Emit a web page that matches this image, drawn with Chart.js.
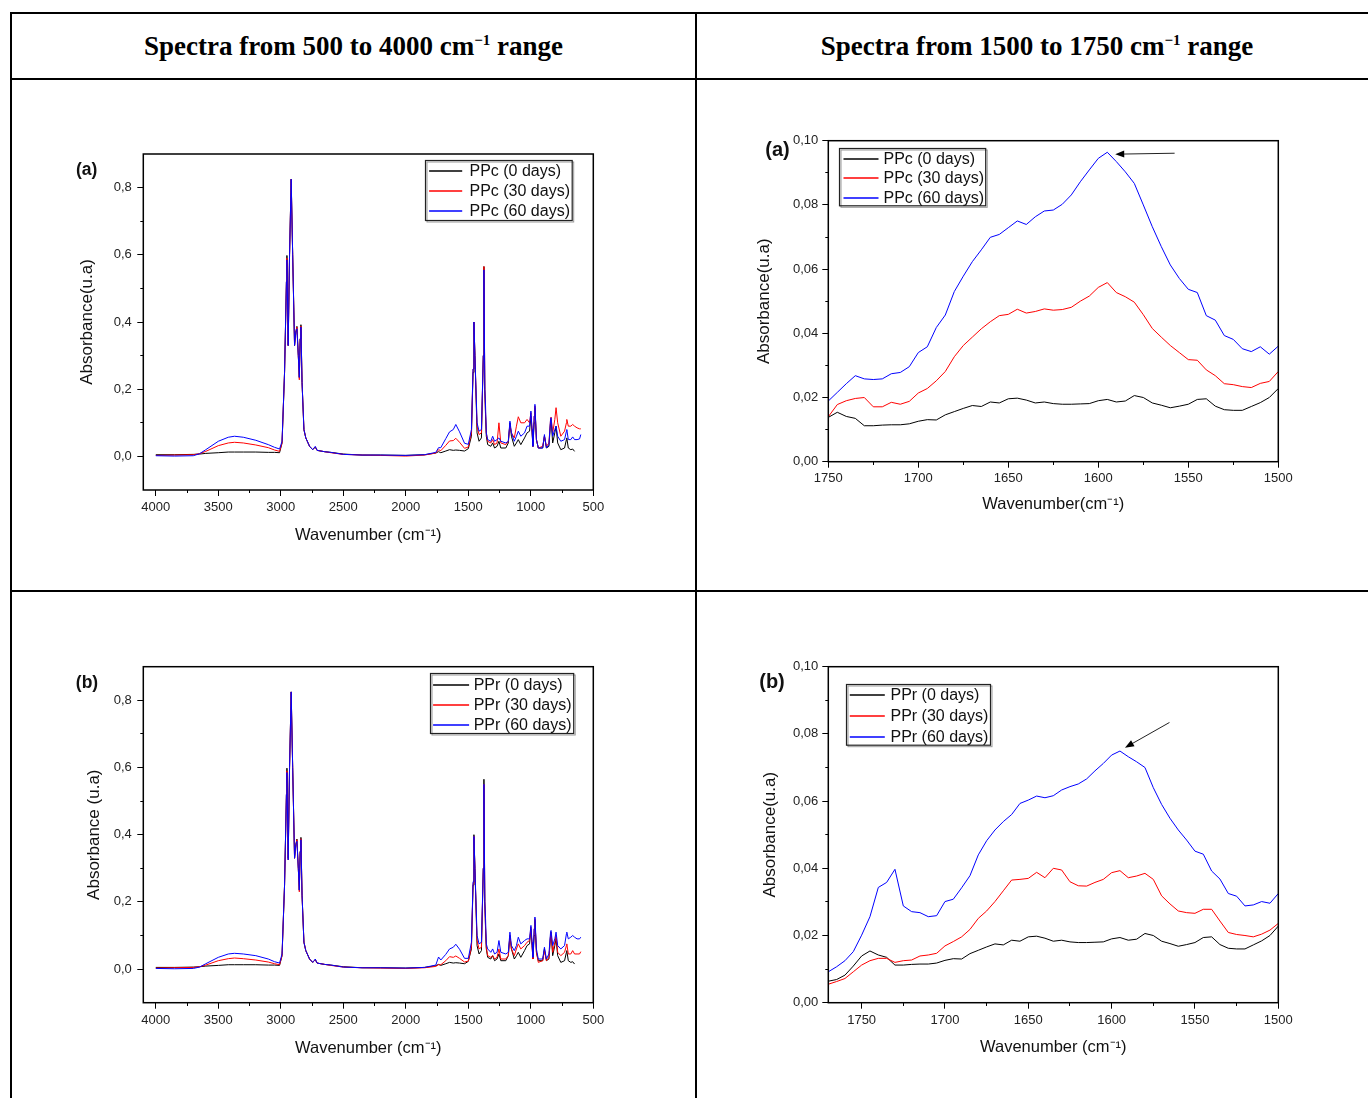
<!DOCTYPE html>
<html>
<head>
<meta charset="utf-8">
<script src="https://cdn.jsdelivr.net/npm/chart.js@4.4.1/dist/chart.umd.min.js"></script>
<style>
  html, body { margin: 0; padding: 0; background: #fff; }
  body { width: 1368px; height: 1098px; position: relative; overflow: hidden; }
  .rule { position: absolute; background: #000; }
  .hdr {
    position: absolute; top: 17px; height: 64px; line-height: 64px; text-align: center;
    font-family: "Liberation Serif", "DejaVu Serif", serif;
    font-weight: bold; font-size: 27px; color: #000; white-space: nowrap;
  }
  .hdr sup { font-size: 15px; vertical-align: 10px; line-height: 0; }
  canvas { position: absolute; }
</style>
</head>
<body>
<div class="rule" style="left:10px; top:12px; width:1358px; height:2px;"></div>
<div class="rule" style="left:10px; top:78px; width:1358px; height:2px;"></div>
<div class="rule" style="left:10px; top:590px; width:1358px; height:2px;"></div>
<div class="rule" style="left:10px; top:12px; width:2px; height:1086px;"></div>
<div class="rule" style="left:695px; top:12px; width:2px; height:1086px;"></div>
<div class="hdr" style="top:14px; left:12px; width:683px;"><span>Spectra from 500 to 4000 cm<sup>−1</sup> range</span></div>
<div class="hdr" style="top:14px; left:697px; width:680px;"><span>Spectra from 1500 to 1750 cm<sup>−1</sup> range</span></div>

<canvas id="fullA" width="678" height="506" style="left:14px; top:82px;"></canvas>
<canvas id="zoomA" width="669" height="506" style="left:699px; top:82px;"></canvas>
<canvas id="fullB" width="678" height="504" style="left:14px; top:594px;"></canvas>
<canvas id="zoomB" width="669" height="504" style="left:699px; top:594px;"></canvas>

<script>
// ---- data ----
const fullWn = [
  4000, 3850, 3700, 3650, 3600, 3500, 3420, 3370, 3300, 3200,
  3100, 3050, 3010, 2990, 2970, 2955, 2951, 2941, 2930, 2917,
  2905, 2890, 2880, 2871, 2860, 2852, 2845, 2839, 2830, 2815,
  2800, 2770, 2745, 2724, 2710, 2650, 2600, 2500, 2350, 2200,
  2000, 1850, 1760, 1738, 1720, 1680, 1650, 1620, 1600, 1570,
  1530, 1500, 1475, 1462, 1455, 1447, 1430, 1414, 1395, 1380,
  1375, 1368, 1362, 1356, 1345, 1320, 1305, 1290, 1270, 1255,
  1240, 1200, 1180, 1167, 1155, 1132, 1115, 1100, 1080, 1050,
  1030, 1010, 999, 990, 983, 973, 967, 955, 940, 905,
  891, 875, 855, 842, 838, 825, 808, 798, 785, 760,
  730, 715, 712, 700, 680, 665, 650, 630, 610, 600
];

// 0 days (same reference sample in both rows)
const day0Full = [
  0.005, 0.005, 0.006, 0.007, 0.009, 0.011, 0.013, 0.013, 0.013, 0.013,
  0.012, 0.012, 0.011, 0.040, 0.250, 0.520, 0.598, 0.330, 0.600, 0.825,
  0.600, 0.330, 0.370, 0.387, 0.300, 0.235, 0.350, 0.392, 0.220, 0.080,
  0.055, 0.030, 0.020, 0.028, 0.018, 0.014, 0.012, 0.007, 0.004, 0.004,
  0.003, 0.005, 0.010, 0.014, 0.011, 0.016, 0.020, 0.018, 0.019, 0.018,
  0.016, 0.023, 0.060, 0.250, 0.400, 0.300, 0.070, 0.045, 0.055, 0.300,
  0.565, 0.200, 0.120, 0.060, 0.035, 0.030, 0.040, 0.025, 0.030, 0.045,
  0.025, 0.025, 0.040, 0.100, 0.060, 0.030, 0.040, 0.050, 0.035, 0.055,
  0.070, 0.075, 0.120, 0.070, 0.030, 0.100, 0.145, 0.050, 0.025, 0.025,
  0.060, 0.025, 0.030, 0.100, 0.110, 0.040, 0.070, 0.090, 0.040, 0.020,
  0.025, 0.050, 0.055, 0.025, 0.020, 0.022, 0.015, null, null, null
];
const ppc30Full = [
  0.003, 0.004, 0.005, 0.008, 0.015, 0.032, 0.040, 0.042, 0.040, 0.034,
  0.026, 0.019, 0.015, 0.040, 0.250, 0.520, 0.590, 0.330, 0.600, 0.825,
  0.600, 0.330, 0.370, 0.385, 0.300, 0.228, 0.350, 0.388, 0.220, 0.080,
  0.055, 0.030, 0.020, 0.028, 0.018, 0.014, 0.011, 0.006, 0.004, 0.003,
  0.001, 0.004, 0.010, 0.020, 0.017, 0.033, 0.046, 0.047, 0.054, 0.042,
  0.024, 0.028, 0.070, 0.260, 0.400, 0.300, 0.090, 0.065, 0.070, 0.300,
  0.565, 0.200, 0.130, 0.070, 0.045, 0.040, 0.050, 0.035, 0.040, 0.100,
  0.040, 0.035, 0.045, 0.095, 0.070, 0.055, 0.090, 0.118, 0.100, 0.100,
  0.110, 0.100, 0.130, 0.080, 0.030, 0.120, 0.150, 0.050, 0.025, 0.030,
  0.060, 0.030, 0.040, 0.110, 0.117, 0.070, 0.110, 0.145, 0.100, 0.060,
  0.075, 0.100, 0.110, 0.090, 0.090, 0.095, 0.090, 0.085, 0.082, 0.082
];
const ppc60Full = [
  0.002, 0.001, 0.002, 0.008, 0.020, 0.045, 0.057, 0.060, 0.057, 0.048,
  0.035, 0.027, 0.022, 0.045, 0.250, 0.520, 0.585, 0.330, 0.600, 0.825,
  0.600, 0.330, 0.370, 0.380, 0.300, 0.235, 0.350, 0.385, 0.220, 0.080,
  0.055, 0.030, 0.020, 0.030, 0.018, 0.014, 0.012, 0.006, 0.004, 0.004,
  0.003, 0.005, 0.012, 0.026, 0.026, 0.053, 0.073, 0.080, 0.095, 0.073,
  0.039, 0.036, 0.080, 0.260, 0.400, 0.300, 0.100, 0.075, 0.080, 0.300,
  0.555, 0.200, 0.150, 0.070, 0.050, 0.045, 0.060, 0.045, 0.050, 0.055,
  0.045, 0.040, 0.045, 0.105, 0.070, 0.045, 0.060, 0.075, 0.060, 0.070,
  0.090, 0.090, 0.135, 0.080, 0.030, 0.120, 0.155, 0.050, 0.025, 0.025,
  0.065, 0.025, 0.035, 0.110, 0.115, 0.060, 0.080, 0.090, 0.060, 0.045,
  0.050, 0.075, 0.080, 0.050, 0.050, 0.058, 0.050, 0.050, 0.052, 0.065
];
const ppr30Full = [
  0.003, 0.004, 0.005, 0.007, 0.012, 0.025, 0.031, 0.033, 0.031, 0.027,
  0.021, 0.016, 0.013, 0.040, 0.250, 0.520, 0.590, 0.325, 0.600, 0.825,
  0.600, 0.330, 0.370, 0.385, 0.300, 0.230, 0.350, 0.388, 0.220, 0.080,
  0.055, 0.030, 0.020, 0.028, 0.018, 0.014, 0.011, 0.006, 0.004, 0.003,
  0.002, 0.004, 0.008, 0.013, 0.013, 0.025, 0.037, 0.035, 0.039, 0.032,
  0.021, 0.024, 0.065, 0.255, 0.395, 0.300, 0.085, 0.060, 0.065, 0.300,
  0.550, 0.200, 0.125, 0.065, 0.040, 0.035, 0.040, 0.030, 0.035, 0.060,
  0.030, 0.030, 0.040, 0.100, 0.060, 0.040, 0.060, 0.075, 0.060, 0.070,
  0.080, 0.085, 0.125, 0.070, 0.030, 0.120, 0.150, 0.050, 0.020, 0.025,
  0.055, 0.025, 0.035, 0.100, 0.110, 0.050, 0.080, 0.100, 0.050, 0.040,
  0.050, 0.070, 0.075, 0.045, 0.045, 0.055, 0.045, 0.045, 0.045, 0.052
];
const ppr60Full = [
  0.002, 0.001, 0.002, 0.006, 0.016, 0.035, 0.045, 0.047, 0.045, 0.040,
  0.030, 0.022, 0.018, 0.045, 0.250, 0.520, 0.585, 0.325, 0.600, 0.825,
  0.600, 0.330, 0.370, 0.380, 0.300, 0.235, 0.350, 0.385, 0.220, 0.080,
  0.055, 0.030, 0.020, 0.030, 0.018, 0.014, 0.012, 0.006, 0.004, 0.004,
  0.003, 0.005, 0.012, 0.036, 0.027, 0.044, 0.060, 0.065, 0.074, 0.059,
  0.032, 0.032, 0.080, 0.260, 0.395, 0.300, 0.100, 0.075, 0.080, 0.300,
  0.550, 0.200, 0.150, 0.075, 0.060, 0.050, 0.060, 0.045, 0.050, 0.085,
  0.050, 0.045, 0.050, 0.110, 0.070, 0.055, 0.070, 0.095, 0.075, 0.085,
  0.090, 0.090, 0.130, 0.080, 0.035, 0.120, 0.155, 0.060, 0.030, 0.030,
  0.065, 0.030, 0.045, 0.110, 0.115, 0.070, 0.090, 0.110, 0.070, 0.060,
  0.070, 0.105, 0.110, 0.090, 0.095, 0.100, 0.095, 0.090, 0.090, 0.095
];

const zoomWnA = [
  1750, 1745, 1740, 1735, 1730, 1725, 1720, 1715, 1710, 1705,
  1700, 1695, 1690, 1685, 1680, 1675, 1670, 1665, 1660, 1655,
  1650, 1645, 1640, 1635, 1630, 1625, 1620, 1615, 1610, 1605,
  1600, 1595, 1590, 1585, 1580, 1575, 1570, 1565, 1560, 1555,
  1550, 1545, 1540, 1535, 1530, 1525, 1520, 1515, 1510, 1505,
  1500
];
const ppc0Zoom = [
  0.0138, 0.0154, 0.0141, 0.0135, 0.0112, 0.0112, 0.0114, 0.0115, 0.0115, 0.0118,
  0.0126, 0.0131, 0.0130, 0.0146, 0.0156, 0.0166, 0.0175, 0.0172, 0.0186, 0.0183,
  0.0196, 0.0198, 0.0192, 0.0183, 0.0186, 0.0181, 0.0179, 0.0179, 0.0180, 0.0181,
  0.0190, 0.0194, 0.0186, 0.0189, 0.0206, 0.0200, 0.0183, 0.0176, 0.0168, 0.0173,
  0.0179, 0.0194, 0.0196, 0.0173, 0.0162, 0.0160, 0.0160, 0.0172, 0.0184, 0.0200,
  0.0228
];
const ppc30Zoom = [
  0.0140, 0.0178, 0.0190, 0.0197, 0.0200, 0.0171, 0.0171, 0.0185, 0.0179, 0.0188,
  0.0214, 0.0228, 0.0252, 0.0281, 0.0327, 0.0362, 0.0388, 0.0414, 0.0436, 0.0455,
  0.0459, 0.0475, 0.0463, 0.0468, 0.0476, 0.0472, 0.0474, 0.0481, 0.0500, 0.0516,
  0.0543, 0.0558, 0.0527, 0.0514, 0.0497, 0.0458, 0.0415, 0.0388, 0.0362, 0.0340,
  0.0318, 0.0316, 0.0286, 0.0268, 0.0243, 0.0240, 0.0234, 0.0231, 0.0244, 0.0250,
  0.0281
];
const ppc60Zoom = [
  0.0189, 0.0216, 0.0243, 0.0268, 0.0258, 0.0256, 0.0258, 0.0274, 0.0278, 0.0296,
  0.0340, 0.0358, 0.0418, 0.0457, 0.0530, 0.0578, 0.0623, 0.0660, 0.0699, 0.0708,
  0.0729, 0.0750, 0.0739, 0.0763, 0.0781, 0.0784, 0.0802, 0.0831, 0.0872, 0.0909,
  0.0945, 0.0964, 0.0935, 0.0903, 0.0867, 0.0800, 0.0732, 0.0670, 0.0613, 0.0571,
  0.0537, 0.0527, 0.0455, 0.0441, 0.0393, 0.0381, 0.0352, 0.0343, 0.0358, 0.0335,
  0.0360
];

const zoomWnB = [
  1770, 1765, 1760, 1755,
  1750, 1745, 1740, 1735, 1730, 1725, 1720, 1715, 1710, 1705,
  1700, 1695, 1690, 1685, 1680, 1675, 1670, 1665, 1660, 1655,
  1650, 1645, 1640, 1635, 1630, 1625, 1620, 1615, 1610, 1605,
  1600, 1595, 1590, 1585, 1580, 1575, 1570, 1565, 1560, 1555,
  1550, 1545, 1540, 1535, 1530, 1525, 1520, 1515, 1510, 1505,
  1500
];
const ppr0Zoom = [
  0.0064, 0.0069, 0.0082, 0.0109,
  0.0139, 0.0154, 0.0142, 0.0135, 0.0112, 0.0112, 0.0114, 0.0115, 0.0115, 0.0118,
  0.0126, 0.0131, 0.0130, 0.0146, 0.0156, 0.0166, 0.0175, 0.0172, 0.0186, 0.0183,
  0.0196, 0.0198, 0.0192, 0.0183, 0.0186, 0.0181, 0.0179, 0.0179, 0.0180, 0.0181,
  0.0190, 0.0194, 0.0186, 0.0189, 0.0206, 0.0200, 0.0183, 0.0176, 0.0168, 0.0173,
  0.0179, 0.0194, 0.0196, 0.0173, 0.0162, 0.0160, 0.0160, 0.0172, 0.0184, 0.0200,
  0.0228
];
const ppr30Zoom = [
  0.0055, 0.0063, 0.0072, 0.0092,
  0.0112, 0.0125, 0.0132, 0.0132, 0.0120, 0.0125, 0.0127, 0.0139, 0.0142, 0.0147,
  0.0169, 0.0182, 0.0196, 0.0218, 0.0251, 0.0273, 0.0301, 0.0333, 0.0365, 0.0367,
  0.0370, 0.0388, 0.0372, 0.0400, 0.0395, 0.0360, 0.0348, 0.0347, 0.0358, 0.0367,
  0.0387, 0.0393, 0.0372, 0.0377, 0.0385, 0.0367, 0.0318, 0.0294, 0.0273, 0.0268,
  0.0266, 0.0278, 0.0278, 0.0243, 0.0209, 0.0203, 0.0200, 0.0196, 0.0204, 0.0216,
  0.0236
];
const ppr60Zoom = [
  0.0092, 0.0107, 0.0125, 0.0152,
  0.0201, 0.0256, 0.0343, 0.0358, 0.0397, 0.0288, 0.0271, 0.0268, 0.0256, 0.0259,
  0.0301, 0.0308, 0.0342, 0.0378, 0.0440, 0.0482, 0.0514, 0.0539, 0.0560, 0.0593,
  0.0603, 0.0615, 0.0610, 0.0616, 0.0633, 0.0643, 0.0651, 0.0666, 0.0690, 0.0712,
  0.0737, 0.0749, 0.0732, 0.0717, 0.0700, 0.0640, 0.0590, 0.0549, 0.0514, 0.0484,
  0.0451, 0.0442, 0.0392, 0.0368, 0.0325, 0.0317, 0.0288, 0.0291, 0.0301, 0.0296,
  0.0325
];

const ppcLabels = ['PPc (0 days)', 'PPc (30 days)', 'PPc (60 days)'];
const pprLabels = ['PPr (0 days)', 'PPr (30 days)', 'PPr (60 days)'];
const seriesColors = ['#000000', '#ff0000', '#0000ff'];

const fullXMajor = [4000, 3500, 3000, 2500, 2000, 1500, 1000, 500];
const fullXMinor = [3750, 3250, 2750, 2250, 1750, 1250, 750];
const fullYMajor = [0, 0.2, 0.4, 0.6, 0.8];
const fullYMinor = [0.1, 0.3, 0.5, 0.7];
const zoomXMajor = [1750, 1700, 1650, 1600, 1550, 1500];
const zoomXMinor = [1725, 1675, 1625, 1575, 1525];
const zoomYMajor = [0, 0.02, 0.04, 0.06, 0.08, 0.1];
const zoomYMinor = [0.01, 0.03, 0.05, 0.07, 0.09];

// arrows point at the 60-day maximum near 1595 cm-1
const arrowAFrom = [1557.6, 0.0961];
const arrowATo = [1590.6, 0.0958];
const arrowBFrom = [1565.3, 0.0834];
const arrowBTo = [1592, 0.0759];

// ---- drawing ----
Chart.defaults.font.family = '"Liberation Sans", Arial, sans-serif';
Chart.defaults.color = '#222';

const isIn = (list, v) => list.some(m => Math.abs(m - v) < 1e-9);

// frame box, boxed legend, panel tag and arrow
const panelExtras = {
  id: 'panelExtras',
  afterDatasetsDraw(chart, args, opts) {
    const { ctx, chartArea: a, scales } = chart;
    ctx.save();
    ctx.strokeStyle = '#000';
    ctx.lineWidth = 1.5;
    ctx.strokeRect(a.left, a.top, a.right - a.left, a.bottom - a.top);

    if (opts.arrow) {
      const x1 = scales.x.getPixelForValue(opts.arrow.from[0]);
      const y1 = scales.y.getPixelForValue(opts.arrow.from[1]);
      const x2 = scales.x.getPixelForValue(opts.arrow.to[0]);
      const y2 = scales.y.getPixelForValue(opts.arrow.to[1]);
      const ang = Math.atan2(y2 - y1, x2 - x1);
      ctx.strokeStyle = '#222';
      ctx.lineWidth = 1;
      ctx.beginPath();
      ctx.moveTo(x1, y1);
      ctx.lineTo(x2 - 6 * Math.cos(ang), y2 - 6 * Math.sin(ang));
      ctx.stroke();
      ctx.fillStyle = '#000';
      ctx.beginPath();
      ctx.moveTo(x2, y2);
      ctx.lineTo(x2 - 9 * Math.cos(ang) + 3.5 * Math.sin(ang), y2 - 9 * Math.sin(ang) - 3.5 * Math.cos(ang));
      ctx.lineTo(x2 - 9 * Math.cos(ang) - 3.5 * Math.sin(ang), y2 - 9 * Math.sin(ang) + 3.5 * Math.cos(ang));
      ctx.closePath();
      ctx.fill();
    }

    const lg = opts.legend;
    const bx = Math.round(a.left + lg.dx) + 0.5, by = Math.round(a.top + lg.dy) + 0.5;
    ctx.fillStyle = '#fff';
    ctx.fillRect(bx, by, lg.w, lg.h);
    ctx.strokeStyle = '#999';
    ctx.lineWidth = 1;
    ctx.strokeRect(bx + 1.5, by + 1.5, lg.w, lg.h);
    ctx.strokeStyle = '#222';
    ctx.lineWidth = 1.2;
    ctx.strokeRect(bx, by, lg.w, lg.h);
    ctx.font = '16px "Liberation Sans", Arial, sans-serif';
    ctx.textBaseline = 'middle';
    chart.data.datasets.forEach((ds, i) => {
      const y = Math.round(by + lg.first + i * lg.row);
      ctx.strokeStyle = ds.borderColor;
      ctx.lineWidth = 1.5;
      ctx.beginPath();
      ctx.moveTo(bx + lg.l1, y);
      ctx.lineTo(bx + lg.l2, y);
      ctx.stroke();
      ctx.fillStyle = '#111';
      ctx.fillText(ds.label, bx + lg.tx, y + 1);
    });

    ctx.fillStyle = '#111';
    ctx.font = 'bold ' + opts.tag.size + 'px "Liberation Sans", Arial, sans-serif';
    ctx.textAlign = 'center';
    ctx.fillText(opts.tag.text, a.left + opts.tag.dx, a.top + opts.tag.dy);
    ctx.restore();
  }
};

function makePanel(id, p) {
  const datasets = p.series.map((vals, i) => ({
    label: p.labels[i],
    data: p.wn.map((x, j) => ({ x: x, y: vals[j] })),
    borderColor: seriesColors[i],
    borderWidth: 1,
    pointRadius: 0,
    tension: 0,
    fill: false,
    order: 2 - i
  }));
  const xTicks = p.xMajor.concat(p.xMinor).sort((a, b) => b - a);
  const yTicks = p.yMajor.concat(p.yMinor).sort((a, b) => a - b);
  const gridFor = (major, minor, dash) => ({
    display: true,
    drawOnChartArea: false,
    drawTicks: true,
    tickLength: 6,
    tickColor: '#000',
    tickWidth: 1,
    tickBorderDash: ctx => (ctx.tick && isIn(minor, ctx.tick.value)) ? dash : [],
    color: '#000'
  });
  return new Chart(document.getElementById(id), {
    type: 'line',
    data: { datasets: datasets },
    options: {
      responsive: false,
      animation: false,
      events: [],
      layout: { padding: p.pad },
      plugins: {
        legend: { display: false },
        tooltip: { enabled: false },
        panelExtras: { legend: p.legend, tag: p.tag, arrow: p.arrow }
      },
      scales: {
        x: {
          type: 'linear',
          reverse: true,
          min: p.xMin,
          max: p.xMax,
          border: { display: false },
          grid: gridFor(p.xMajor, p.xMinor, [3, 100]),
          afterBuildTicks: s => { s.ticks = xTicks.map(v => ({ value: v })); },
          afterFit: s => { s.height = p.xHeight; },
          ticks: {
            autoSkip: false,
            maxRotation: 0,
            padding: p.xPad,
            font: { size: 13 },
            color: '#222',
            callback: v => isIn(p.xMajor, v) ? String(v) : ''
          },
          title: {
            display: true,
            text: p.xTitle,
            color: '#111',
            padding: 0,
            font: { size: 16.5, lineHeight: 1 }
          }
        },
        y: {
          type: 'linear',
          min: p.yMin,
          max: p.yMax,
          border: { display: false },
          grid: gridFor(p.yMajor, p.yMinor, [0, 3, 3, 100]),
          afterBuildTicks: s => { s.ticks = yTicks.map(v => ({ value: v })); },
          afterFit: s => { s.width = p.yWidth; },
          ticks: {
            autoSkip: false,
            padding: p.yPad,
            font: { size: 13 },
            color: '#222',
            callback: v => isIn(p.yMajor, v) ? v.toFixed(p.yDec).replace('.', ',') : ''
          },
          title: {
            display: true,
            text: p.yTitle,
            color: '#111',
            padding: 0,
            font: { size: 17, lineHeight: 1 }
          }
        }
      }
    },
    plugins: [panelExtras]
  });
}

makePanel('fullA', {
  wn: fullWn, series: [day0Full, ppc30Full, ppc60Full], labels: ppcLabels,
  xMin: 500, xMax: 4100, yMin: -0.1, yMax: 0.9, yDec: 1,
  xMajor: fullXMajor, xMinor: fullXMinor, yMajor: fullYMajor, yMinor: fullYMinor,
  pad: { left: 65, top: 72, right: 98.7, bottom: 44 }, yWidth: 64.3, xHeight: 54,
  xPad: 4, yPad: 5.5,
  xTitle: 'Wavenumber (cm⁻¹)', yTitle: 'Absorbance(u.a)',
  legend: { dx: 281.7, dy: 6, w: 146.7, h: 60, first: 10, row: 20, l1: 3.6, l2: 36.7, tx: 44 },
  tag: { text: '(a)', size: 17.5, dx: -56.6, dy: 16 }
});

makePanel('zoomA', {
  wn: zoomWnA, series: [ppc0Zoom, ppc30Zoom, ppc60Zoom], labels: ppcLabels,
  xMin: 1500, xMax: 1750, yMin: 0, yMax: 0.1, yDec: 2,
  xMajor: zoomXMajor, xMinor: zoomXMinor, yMajor: zoomYMajor, yMinor: zoomYMinor,
  pad: { left: 57, top: 58.7, right: 89.7, bottom: 75 }, yWidth: 72.3, xHeight: 51.3,
  xPad: 2.5, yPad: 4,
  xTitle: 'Wavenumber(cm⁻¹)', yTitle: 'Absorbance(u.a)',
  legend: { dx: 11, dy: 7, w: 146.2, h: 57.3, first: 10.6, row: 19.2, l1: 4, l2: 39, tx: 44 },
  tag: { text: '(a)', size: 20, dx: -50.8, dy: 10 },
  arrow: { from: arrowAFrom, to: arrowATo }
});

makePanel('fullB', {
  wn: fullWn, series: [day0Full, ppr30Full, ppr60Full], labels: pprLabels,
  xMin: 500, xMax: 4100, yMin: -0.1, yMax: 0.9, yDec: 1,
  xMajor: fullXMajor, xMinor: fullXMinor, yMajor: fullYMajor, yMinor: fullYMinor,
  pad: { left: 71.5, top: 72.7, right: 98.7, bottom: 41.3 }, yWidth: 57.8, xHeight: 54,
  xPad: 4, yPad: 5.5,
  xTitle: 'Wavenumber (cm⁻¹)', yTitle: 'Absorbance (u.a)',
  legend: { dx: 287.1, dy: 6.6, w: 143.2, h: 60, first: 11, row: 20, l1: 2.6, l2: 38.6, tx: 43.2 },
  tag: { text: '(b)', size: 17.5, dx: -56.3, dy: 16 }
});

makePanel('zoomB', {
  wn: zoomWnB, series: [ppr0Zoom, ppr30Zoom, ppr60Zoom], labels: pprLabels,
  xMin: 1500, xMax: 1770, yMin: 0, yMax: 0.1, yDec: 2,
  xMajor: zoomXMajor, xMinor: zoomXMinor, yMajor: zoomYMajor, yMinor: zoomYMinor,
  pad: { left: 62.9, top: 72.7, right: 89.7, bottom: 42 }, yWidth: 66.4, xHeight: 53.3,
  xPad: 3.5, yPad: 4,
  xTitle: 'Wavenumber (cm⁻¹)', yTitle: 'Absorbance(u.a)',
  legend: { dx: 17.7, dy: 17.6, w: 144, h: 60.7, first: 10.7, row: 20.8, l1: 3.3, l2: 38.3, tx: 44 },
  tag: { text: '(b)', size: 20, dx: -56.3, dy: 16 },
  arrow: { from: arrowBFrom, to: arrowBTo }
});
</script>
</body>
</html>
